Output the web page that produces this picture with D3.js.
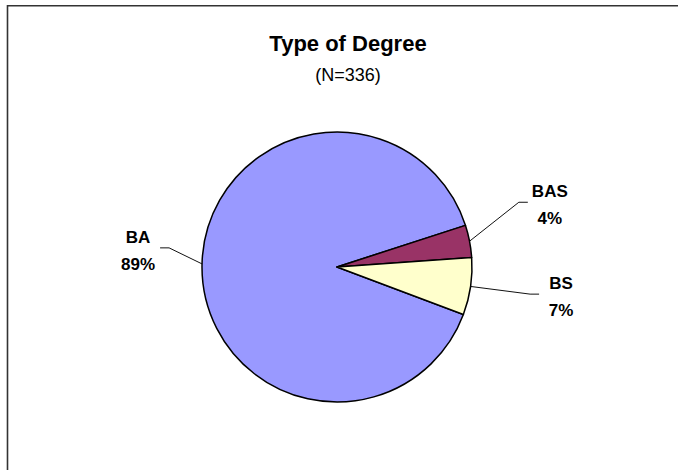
<!DOCTYPE html>
<html>
<head>
    <meta charset="UTF-8">
    <title>Type of Degree</title>
    <script src="https://cdn.jsdelivr.net/npm/d3@7"></script>
    <style>
        body, html { margin: 0; padding: 0; background: #fff; overflow: hidden; }
        svg { display: block; font-family: "Liberation Sans", Arial, sans-serif; }
    </style>
</head>
<body>
    <svg id="chart" width="678" height="470"></svg>
    <script>
        // data (N = 336)
        var categories = ["BA", "BAS", "BS"];
        var counts = [300, 13, 23];
        var total = 336;
        var colors = ["#9999ff", "#993366", "#ffffcc"];

        // where the leader line bends, per slice: [angle in degrees, radius]
        var elbows = [[276.5, 169], [70.4, 193], [98, 195]];

        var svg = d3.select("#chart");
        var cx = 337, cy = 267, r = 135;

        // frame (runs off the right and bottom edge)
        svg.append("path")
            .attr("d", "M7.5,480V5.8H690")
            .attr("fill", "none")
            .attr("stroke", "#333")
            .attr("stroke-width", 1.6);

        svg.append("text")
            .attr("x", 348).attr("y", 51)
            .attr("text-anchor", "middle")
            .attr("font-weight", "bold")
            .attr("font-size", "22px")
            .text("Type of Degree");

        svg.append("text")
            .attr("x", 348).attr("y", 81)
            .attr("text-anchor", "middle")
            .attr("font-size", "18px")
            .text("(N=" + total + ")");

        var start = 110.6 * Math.PI / 180;
        var pie = d3.pie().sort(null).startAngle(start).endAngle(start + 2 * Math.PI);
        var arcs = pie(counts);
        var arc = d3.arc().innerRadius(0).outerRadius(r);

        var g = svg.append("g").attr("transform", "translate(" + cx + "," + cy + ")");

        g.selectAll("path.slice")
            .data(arcs)
            .enter()
            .append("path")
            .attr("class", "slice")
            .attr("d", arc)
            .attr("fill", function (d, i) { return colors[i]; })
            .attr("stroke", "#000")
            .attr("stroke-width", 1.5)
            .attr("stroke-linejoin", "round");

        function polar(a, rad) {
            return [rad * Math.sin(a), -rad * Math.cos(a)];
        }

        arcs.forEach(function (d, i) {
            var mid = (d.startAngle + d.endAngle) / 2;
            var p0 = polar(mid, r);
            var p1 = polar(elbows[i][0] * Math.PI / 180, elbows[i][1]);
            var side = p1[0] < 0 ? -1 : 1;
            var p2 = [p1[0] + side * 9, p1[1]];

            g.append("polyline")
                .attr("points", [p0, p1, p2].map(function (p) { return p.join(","); }).join(" "))
                .attr("fill", "none")
                .attr("stroke", "#111")
                .attr("stroke-width", 1);

            var pct = Math.round(counts[i] / total * 100) + "%";
            var lbl = g.append("text")
                .attr("text-anchor", "middle")
                .attr("font-weight", "bold")
                .attr("font-size", "17px");
            var tx = p2[0] + side * 22;
            lbl.append("tspan").attr("x", tx).attr("y", p2[1] - 5).text(categories[i]);
            lbl.append("tspan").attr("x", tx).attr("y", p2[1] + 22).text(pct);
        });
    </script>
</body>
</html>
